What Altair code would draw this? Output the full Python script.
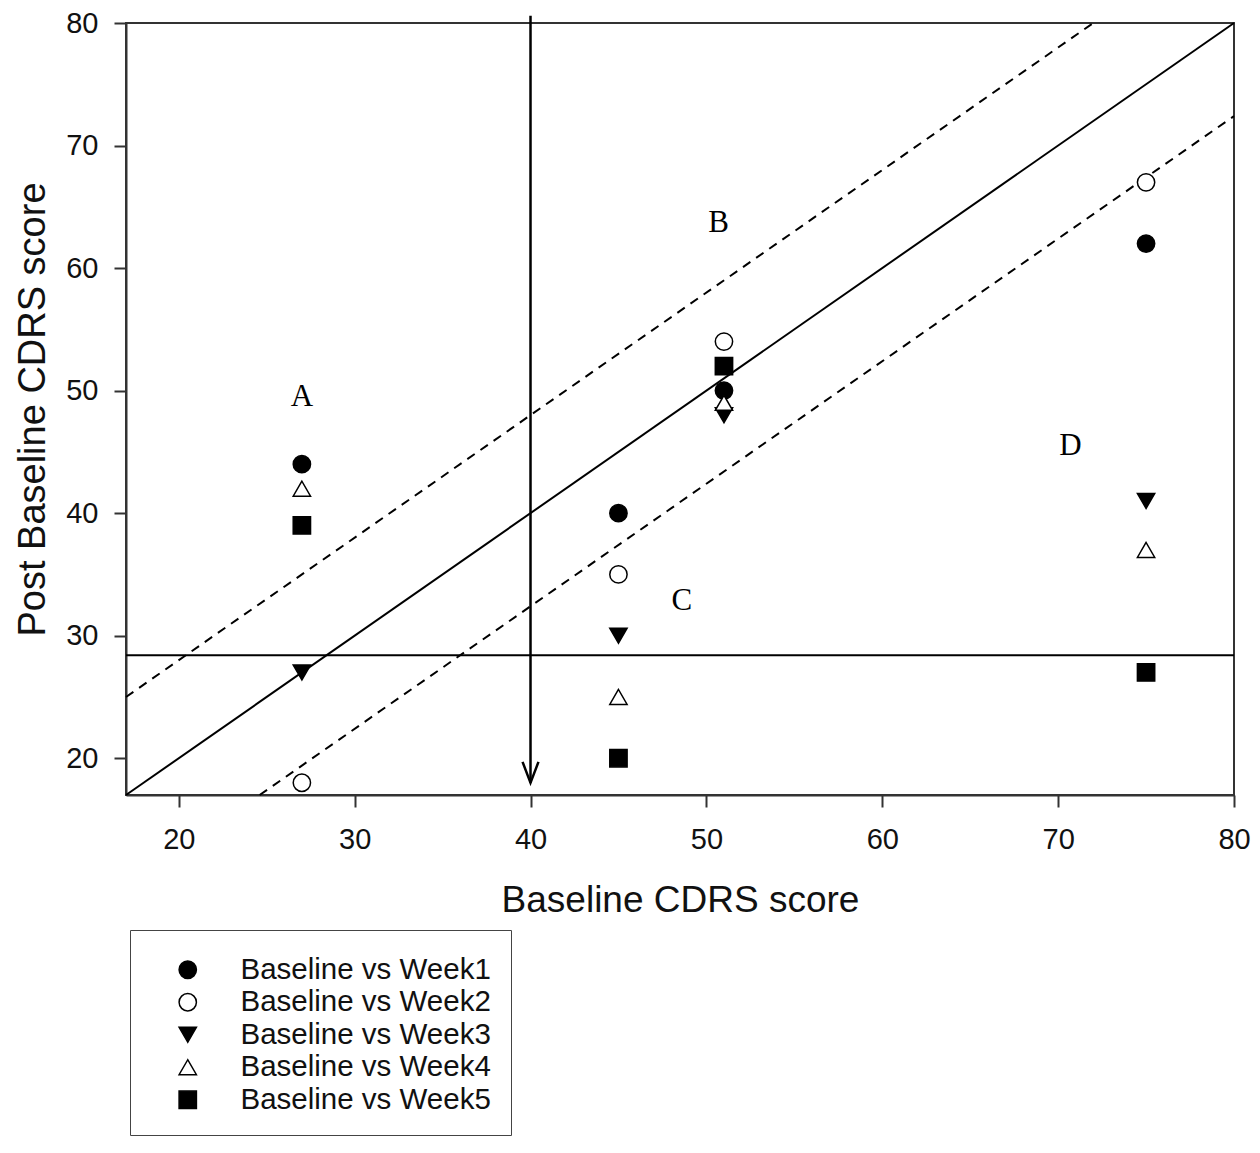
import altair as alt
import pandas as pd

# ---- data ----
series_names = ["Baseline vs Week1", "Baseline vs Week2", "Baseline vs Week3",
                "Baseline vs Week4", "Baseline vs Week5"]
baseline_x = [27, 45, 51, 75]
week1 = [44, 40, 50, 62]
week2 = [18, 35, 54, 67]
week3 = [27, 30, 48, 41]
week4 = [42, 25, 49, 37]
week5 = [39, 20, 52, 27]
all_weeks = [week1, week2, week3, week4, week5]

shapes = ["circle", "circle", "triangle-down", "triangle-up", "square"]
fills = ["black", "white", "black", "white", "black"]
strokes = ["black"] * 5
sizes = [300, 300, 400, 400, 320]

# reference lines
identity_x = [17, 80]
identity_y = [17, 80]
upper_x = [17, 72]
upper_y = [25, 80]
lower_x = [24.6, 80]
lower_y = [17, 72.4]
h_line_y = 28.4
arrow_x = 40
arrow_top = 80.6
arrow_tip = 18.0
arrow_head_y = 18.85

label_text = ["A", "B", "C", "D"]
label_x = [27.0, 50.7, 48.6, 70.7]
label_y = [49.5, 63.7, 32.85, 45.45]

x_ticks = [20, 30, 40, 50, 60, 70, 80]
y_ticks = [20, 30, 40, 50, 60, 70, 80]

# ---- tables ----
rows = []
for name, vals in zip(series_names, all_weeks):
    for xv, yv in zip(baseline_x, vals):
        rows.append({"series": name, "x": xv, "y": yv})
pts = pd.DataFrame(rows)

solid_df = pd.DataFrame({"x": identity_x, "y": identity_y})
dash_df = pd.DataFrame({
    "x": upper_x + lower_x,
    "y": upper_y + lower_y,
    "seg": ["u", "u", "l", "l"],
})
hline_df = pd.DataFrame({"y": [h_line_y]})
arrow_df = pd.DataFrame({"x": [arrow_x], "y": [arrow_top], "y2": [arrow_tip]})
head_df = pd.DataFrame({"x": [arrow_x], "y": [arrow_head_y]})
lab_df = pd.DataFrame({"t": label_text, "x": label_x, "y": label_y})

FONT = "Liberation Sans"
xs = alt.Scale(domain=[17, 80], nice=False, zero=False)
ys = alt.Scale(domain=[17, 80], nice=False, zero=False)
common = dict(grid=False, labelFlush=False, domainColor="#333", domainWidth=2,
              tickColor="#333", tickWidth=2, tickSize=12, labelFont=FONT,
              labelFontSize=29, labelColor="#111", titleFont=FONT,
              titleColor="#111", titleFontWeight="normal")
xaxis = alt.Axis(title="Baseline CDRS score", values=x_ticks, titleFontSize=37,
                 labelPadding=18, titlePadding=28, **common)
yaxis = alt.Axis(title="Post Baseline CDRS score", values=y_ticks, titleFontSize=38,
                 labelPadding=16, titlePadding=13, **common)


def X(f="x"):
    return alt.X(f, type="quantitative", scale=xs, axis=xaxis)


def Y(f="y"):
    return alt.Y(f, type="quantitative", scale=ys, axis=yaxis)


legend = alt.Legend(title=" ", titleFontSize=5, titlePadding=0,
                    orient="none", legendX=4, legendY=907,
                    strokeColor="#444", fillColor="white", padding=20,
                    symbolOffset=23, labelFont=FONT, labelFontSize=29.5,
                    labelColor="#111", labelOffset=38, rowPadding=1.5,
                    labelLimit=400, symbolStrokeWidth=1.5)

points = alt.Chart(pts).mark_point(filled=True, strokeWidth=1.5, opacity=1).encode(
    x=X(), y=Y(),
    shape=alt.Shape("series:N", scale=alt.Scale(domain=series_names, range=shapes),
                    legend=legend),
    fill=alt.Fill("series:N", scale=alt.Scale(domain=series_names, range=fills),
                  legend=legend),
    stroke=alt.Stroke("series:N", scale=alt.Scale(domain=series_names, range=strokes),
                      legend=legend),
    size=alt.Size("series:N", scale=alt.Scale(domain=series_names, range=sizes),
                  legend=legend),
)

solid = alt.Chart(solid_df).mark_line(color="black", strokeWidth=2).encode(x=X(), y=Y())
dashed = alt.Chart(dash_df).mark_line(color="black", strokeWidth=2,
                                      strokeDash=[9, 7]).encode(
    x=X(), y=Y(), detail="seg:N")
hline = alt.Chart(hline_df).mark_rule(color="black", strokeWidth=2).encode(y=Y())
arrow = alt.Chart(arrow_df).mark_rule(color="black", strokeWidth=2.5).encode(
    x=X(), y=Y(), y2="y2")
head = alt.Chart(head_df).mark_point(shape="M-0.76,-1L0,1L0.76,-1", filled=False,
                                     stroke="black", strokeWidth=2.5, size=441,
                                     opacity=1).encode(x=X(), y=Y())
labels = alt.Chart(lab_df).mark_text(font="Liberation Serif", fontSize=31,
                                     color="black").encode(x=X(), y=Y(), text="t:N")

chart = alt.layer(solid, dashed, hline, arrow, head, points, labels).properties(
    width=1108, height=772,
    autosize=alt.AutoSizeParams(type="none"),
    padding={"left": 118, "top": 15, "right": 18, "bottom": 349},
).configure_view(
    stroke="#333", strokeWidth=2
)

chart.save("out.html", embed_options={"renderer": "svg", "actions": False})
